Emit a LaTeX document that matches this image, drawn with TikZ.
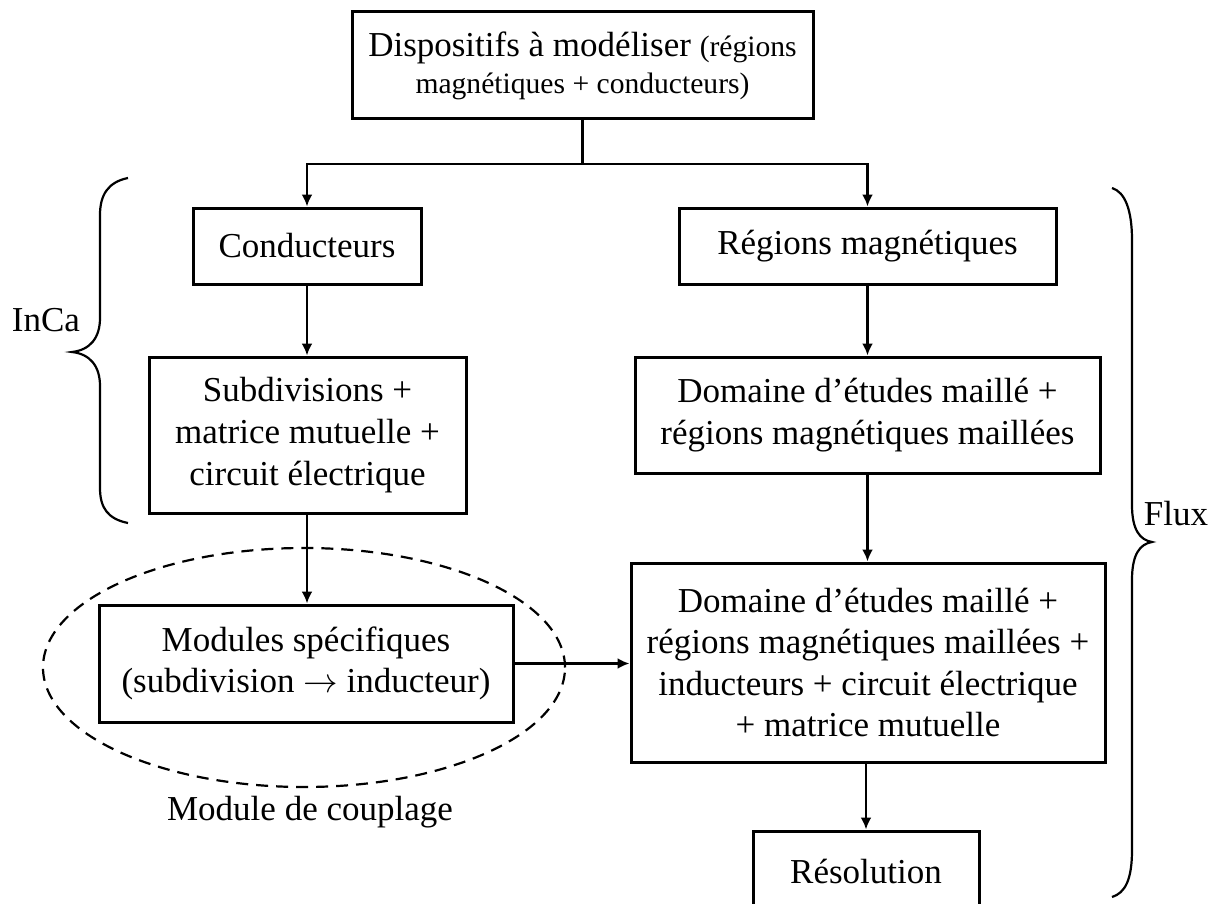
\documentclass[tikz,border=0pt]{standalone}
\usepackage{fontspec}
\setmainfont{Liberation Serif}
\usetikzlibrary{arrows.meta,shapes.geometric}
\begin{document}
\begin{tikzpicture}[x=0.5pt,y=-0.5pt,
  box/.style={draw, line width=1.5pt, align=center, inner sep=0pt, font=\fontsize{17.5}{20.8}\selectfont},
  conn/.style={line width=1.2pt},
  arr/.style={conn, -{Latex[length=6pt,width=5.5pt]}},
  lbl/.style={inner sep=0pt, font=\fontsize{17.5}{20.8}\selectfont},
  brace/.style={line width=1.1pt},
  ]
\useasboundingbox (0,0) rectangle (1216,904);
\node[box, minimum width=230.5pt, minimum height=53.5pt, font=\fontsize{17.5}{18.5}\selectfont] (top) at (582.5,65.5)
  {Dispositifs à modéliser {\fontsize{14.8}{18.5}\selectfont (régions}\\{\fontsize{14.8}{18.5}\selectfont magnétiques + conducteurs)}};
\node[box, minimum width=114pt, minimum height=38pt] (cond) at (307,246) {Conducteurs};
\node[box, minimum width=188.5pt, minimum height=38pt] (reg) at (867.5,246) {Régions magnétiques};
\node[box, minimum width=158.5pt, minimum height=78pt] (subd) at (307.5,435) {Subdivisions +\\matrice mutuelle +\\circuit électrique};
\node[box, minimum width=232.5pt, minimum height=58pt] (dom) at (867.5,415) {Domaine d’études maillé +\\régions magnétiques maillées};
\node[draw, line width=1.1pt, dash pattern=on 6pt off 4pt, ellipse, minimum width=261pt, minimum height=119.5pt, inner sep=0pt] (coupling) at (304,667.5) {};
\node[box, minimum width=207pt, minimum height=58.5pt] (mod) at (306,663.5) {Modules spécifiques\\(subdivision $\rightarrow$ inducteur)};
\node[box, minimum width=237pt, minimum height=99.5pt] (big) at (868,662.5) {Domaine d’études maillé +\\régions magnétiques maillées +\\inducteurs + circuit électrique\\+ matrice mutuelle};
\node[box, minimum width=113pt, minimum height=40pt] (res) at (866,871) {Résolution};
\node[lbl] (couplage) at (310,812) {Module de couplage};
\node[lbl] (inca) at (46,320) {InCa};
\node[lbl] (flux) at (1176,514) {Flux};
% connectors
\coordinate (j) at (582.5,164);
\draw[conn] (top.south) -- (j);
\draw[arr] (j) -| (cond.north);
\draw[arr] (j) -| (reg.north);
\draw[arr] (cond.south) -- (subd.north -| cond.south);
\draw[arr] (subd.south -| cond.south) -- (mod.north -| cond.south);
\draw[arr] (reg.south) -- (dom.north);
\draw[arr] (dom.south) -- (big.north -| dom.south);
\draw[arr] (big.south -| res.north) -- (res.north);
\draw[arr] (mod.east) -- (mod.east -| big.west);
% braces
\draw[brace] (128,178) .. controls (108,182) and (100,195) .. (100,215)
  -- (100,318) .. controls (100,338) and (90,350) .. (72,352)
  .. controls (90,354) and (100,366) .. (100,386)
  -- (100,488) .. controls (100,508) and (108,519) .. (128,523);
\draw[brace] (1112,188) .. controls (1125,192) and (1132,210) .. (1132,240)
  -- (1132,505) .. controls (1132,530) and (1140,540) .. (1152,542)
  .. controls (1140,544) and (1132,554) .. (1132,580)
  -- (1132,850) .. controls (1132,880) and (1125,893) .. (1112,897);
\end{tikzpicture}
\end{document}
